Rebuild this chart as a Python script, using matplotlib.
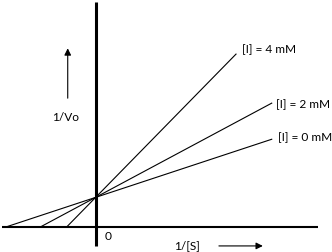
"""
Lineweaver-Burk sketch: competitive inhibition at three inhibitor levels.
"""
import matplotlib.pyplot as plt

plt.rcParams["font.family"] = ["Lato", "DejaVu Sans"]

# inhibitor levels, x-intercepts (-1/Km app), shared y-intercept (1/Vmax)
INHIBITOR = ["0", "2", "4"]
X_INTERCEPT = [-3.0, -1.85, -0.97]
Y_INTERCEPT = 1.0
# how far right each line is drawn (in 1/[S] units)
X_END = [5.87, 5.87, 4.68]


def draw_plot():
    fig = plt.figure(figsize=(3.32, 2.53), dpi=100)
    ax = fig.add_axes([0, 0, 1, 1])
    ax.set_xlim(-3.19, 7.88)
    ax.set_ylim(-0.84, 7.68)
    ax.axis("off")

    # axes of the sketch
    ax.plot([-3.12, 7.41], [0, 0], color="black", lw=1.5,
            solid_capstyle="butt")
    ax.plot([0, 0], [-0.64, 7.58], color="black", lw=2.2,
            solid_capstyle="butt")

    offsets = {"0": (6, -3), "2": (4, 0), "4": (6, -5)}
    for conc, x0, x1 in zip(INHIBITOR, X_INTERCEPT, X_END):
        slope = Y_INTERCEPT / -x0
        ax.plot([x0, x1], [0, Y_INTERCEPT + slope * x1], color="black", lw=0.8)
        dx, dy = offsets[conc]
        ax.annotate(f"[I] = {conc} mM", (x1, Y_INTERCEPT + slope * x1),
                    xytext=(dx * 0.72, -dy * 0.72), textcoords="offset points",
                    ha="left", va="center", fontsize=8.6)

    # axis captions with arrows
    ax.annotate("", xy=(0.204, 0.816), xytext=(0.204, 0.597),
                xycoords="axes fraction",
                arrowprops=dict(arrowstyle="-|>", color="black", lw=0.8,
                                mutation_scale=10))
    ax.text(0.199, 0.534, "1/Vo", transform=ax.transAxes, ha="center",
            va="center", fontsize=8.6)
    ax.annotate("", xy=(0.800, 0.024), xytext=(0.651, 0.024),
                xycoords="axes fraction",
                arrowprops=dict(arrowstyle="-|>", color="black", lw=0.8,
                                mutation_scale=10))
    ax.text(0.563, 0.028, "1/[S]", transform=ax.transAxes, ha="center",
            va="center", fontsize=8.6)
    ax.text(0.325, 0.067, "0", transform=ax.transAxes, ha="center",
            va="center", fontsize=8.6)

    fig.savefig("out.png", dpi=100)


if __name__ == "__main__":
    draw_plot()
